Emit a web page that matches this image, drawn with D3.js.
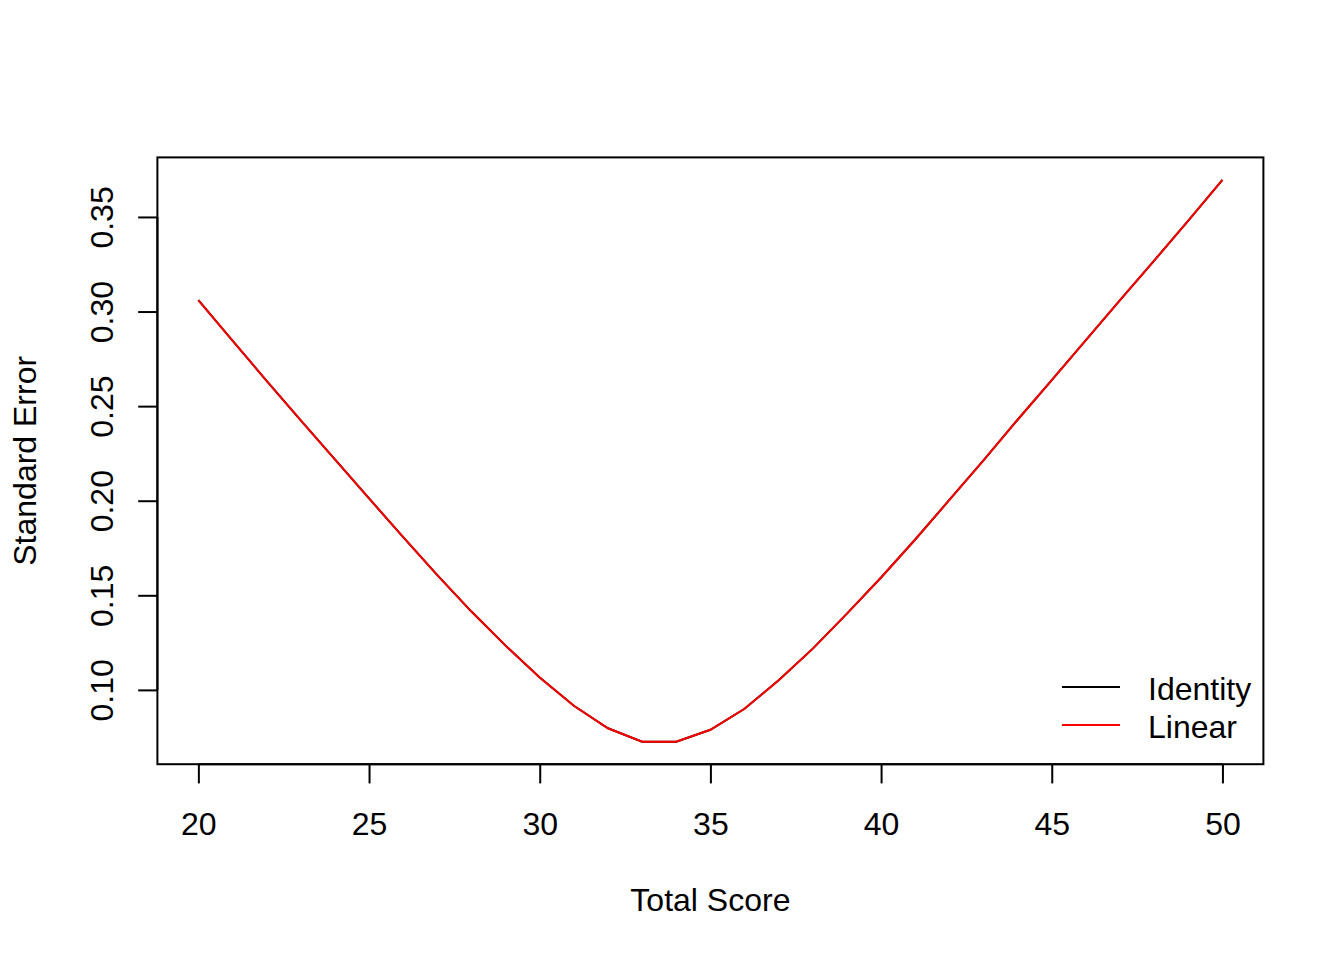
<!DOCTYPE html>
<html>
<head>
<meta charset="utf-8">
<script src="https://cdn.jsdelivr.net/npm/d3@7"></script>
<style>
  html, body { margin: 0; padding: 0; background: #ffffff; }
  svg { display: block; }
  text { font-family: "Liberation Sans", Arial, sans-serif; fill: #000; }
</style>
</head>
<body>
<svg id="chart" width="1344" height="960"></svg>
<script>
// ---- data ----
const totalScore = [20,21,22,23,24,25,26,27,28,29,30,31,32,33,34,35,36,37,38,39,40,41,42,43,44,45,46,47,48,49,50];
const seIdentity = [0.3060,0.2846,0.2634,0.2425,0.2219,0.2012,0.1808,0.1607,0.1414,0.1234,0.1065,0.0916,0.0797,0.0726,0.0726,0.0789,0.0900,0.1051,0.1218,0.1403,0.1594,0.1795,0.2004,0.2213,0.2428,0.2637,0.2849,0.3060,0.3269,0.3481,0.3696];
const seLinear   = [0.3060,0.2846,0.2634,0.2425,0.2219,0.2012,0.1808,0.1607,0.1414,0.1234,0.1065,0.0916,0.0797,0.0726,0.0726,0.0789,0.0900,0.1051,0.1218,0.1403,0.1594,0.1795,0.2004,0.2213,0.2428,0.2637,0.2849,0.3060,0.3269,0.3481,0.3696];
const xTicks = [20,25,30,35,40,45,50];
const yTicks = [0.10,0.15,0.20,0.25,0.30,0.35];
const yTickLabels = ["0.10","0.15","0.20","0.25","0.30","0.35"];
const legendLabels = ["Identity","Linear"];
const legendColors = ["#000000","#ff0000"];
const xTitle = "Total Score";
const yTitle = "Standard Error";

// ---- layout ----
const W = 1344, H = 960;
const plot = {left: 157.4, right: 1263.4, top: 157.4, bottom: 764.2};
const svg = d3.select("#chart");

function padExtent(ext) {
  const r = ext[1] - ext[0];
  return [ext[0] - 0.04 * r, ext[1] + 0.04 * r];
}
const allY = seIdentity.concat(seLinear);
const x = d3.scaleLinear().domain(padExtent(d3.extent(totalScore))).range([plot.left, plot.right]);
const y = d3.scaleLinear().domain(padExtent(d3.extent(allY))).range([plot.bottom, plot.top]);

// ---- axes ----
const xAxis = d3.axisBottom(x).tickValues(xTicks).tickSize(19.2).tickPadding(0).tickFormat(d3.format("d"));
const gx = svg.append("g").attr("transform", `translate(0,${plot.bottom})`).call(xAxis);
gx.select(".domain").attr("d", `M${x(xTicks[0])},0H${x(xTicks[xTicks.length-1])}`).attr("stroke", "#000").attr("stroke-width", 2);
gx.selectAll(".tick line").attr("stroke", "#000").attr("stroke-width", 2);
gx.selectAll(".tick text").attr("y", 71).attr("dy", null).attr("font-size", 32).attr("font-family", '"Liberation Sans", Arial, sans-serif').attr("fill", "#000");

const yAxis = d3.axisLeft(y).tickValues(yTicks).tickSize(19.2).tickPadding(0).tickFormat((d, i) => yTickLabels[i]);
const gy = svg.append("g").attr("transform", `translate(${plot.left},0)`).call(yAxis);
gy.select(".domain").attr("d", `M0,${y(yTicks[0])}V${y(yTicks[yTicks.length-1])}`).attr("stroke", "#000").attr("stroke-width", 2);
gy.selectAll(".tick line").attr("stroke", "#000").attr("stroke-width", 2);
gy.selectAll(".tick text")
  .attr("x", null).attr("dy", null)
  .attr("transform", "translate(-44,0) rotate(-90)")
  .attr("text-anchor", "middle")
  .attr("font-size", 32).attr("font-family", '"Liberation Sans", Arial, sans-serif').attr("fill", "#000");

// ---- box ----
svg.append("rect")
  .attr("x", plot.left).attr("y", plot.top)
  .attr("width", plot.right - plot.left).attr("height", plot.bottom - plot.top)
  .attr("fill", "none").attr("stroke", "#000").attr("stroke-width", 2);

// ---- lines ----
const line = d3.line().x((d, i) => x(totalScore[i])).y(d => y(d));
svg.append("path").datum(seIdentity).attr("d", line)
  .attr("fill", "none").attr("stroke", legendColors[0]).attr("stroke-width", 2);
svg.append("path").datum(seLinear).attr("d", line)
  .attr("fill", "none").attr("stroke", legendColors[1]).attr("stroke-width", 2);

// ---- titles ----
svg.append("text").attr("x", (plot.left + plot.right) / 2).attr("y", 911)
  .attr("text-anchor", "middle").attr("font-size", 32).text(xTitle);
svg.append("text").attr("transform", `translate(36,${(plot.top + plot.bottom) / 2}) rotate(-90)`)
  .attr("text-anchor", "middle").attr("font-size", 32).text(yTitle);

// ---- legend ----
const legY = [687, 725];
const leg = svg.append("g");
legendLabels.forEach((lab, i) => {
  leg.append("line").attr("x1", 1062).attr("x2", 1120).attr("y1", legY[i]).attr("y2", legY[i])
    .attr("stroke", legendColors[i]).attr("stroke-width", 2);
  leg.append("text").attr("x", 1148).attr("y", legY[i] + 13).attr("font-size", 32).text(lab);
});
</script>
</body>
</html>
